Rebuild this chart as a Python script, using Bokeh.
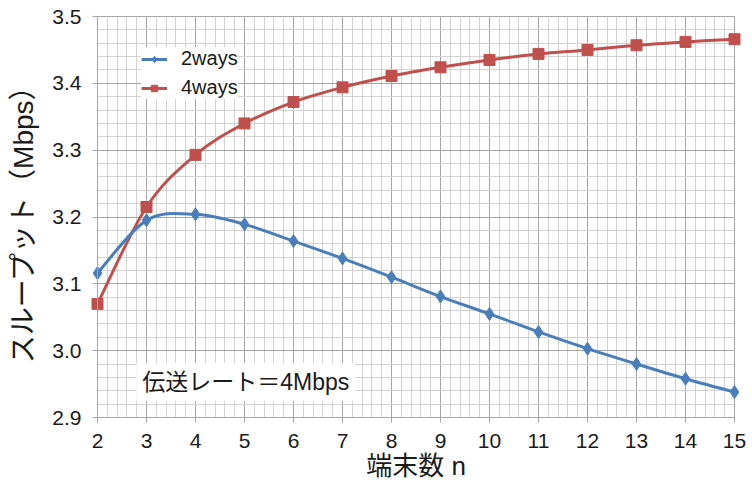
from bokeh.plotting import figure
from bokeh.models import (Range1d, SingleIntervalTicker, Legend, LegendItem, Label,
                          ColumnDataSource, NumeralTickFormatter)
from bokeh.embed import file_html
from bokeh.resources import INLINE

# ---- data ----
terminals = [2, 3, 4, 5, 6, 7, 8, 9, 10, 11, 12, 13, 14, 15]
ways2 = [3.116, 3.195, 3.204, 3.189, 3.164, 3.138, 3.110, 3.081, 3.055, 3.028, 3.003, 2.980, 2.958, 2.938]
ways4 = [3.070, 3.215, 3.293, 3.340, 3.372, 3.394, 3.411, 3.424, 3.435, 3.444, 3.450, 3.457, 3.462, 3.466]
series_names = ["2ways", "4ways"]
x_title = "端末数 n"
y_title = "スループット（Mbps）"
note_text = "伝送レート＝4Mbps"

BLUE = "#4a7ebb"
RED = "#c0504d"
FONT = "'Liberation Sans', Arial, 'Noto Sans CJK JP'"


def smooth_segments(xs, ys):
    """Bezier control points (Catmull-Rom style, as Excel smoothed lines)."""
    n = len(xs)
    d = dict(x0=[], y0=[], x1=[], y1=[], cx0=[], cy0=[], cx1=[], cy1=[])
    for i in range(n - 1):
        pm = i - 1 if i > 0 else i
        pp = i + 2 if i + 2 < n else i + 1
        d["x0"].append(xs[i]); d["y0"].append(ys[i])
        d["x1"].append(xs[i + 1]); d["y1"].append(ys[i + 1])
        d["cx0"].append(xs[i] + (xs[i + 1] - xs[pm]) / 6.0)
        d["cy0"].append(ys[i] + (ys[i + 1] - ys[pm]) / 6.0)
        d["cx1"].append(xs[i + 1] - (xs[pp] - xs[i]) / 6.0)
        d["cy1"].append(ys[i + 1] - (ys[pp] - ys[i]) / 6.0)
    return ColumnDataSource(d)


p = figure(width=752, height=487, output_backend="svg", toolbar_location=None,
           x_range=Range1d(2, 15), y_range=Range1d(2.9, 3.5),
           min_border_left=97, min_border_right=18, min_border_top=16, min_border_bottom=70)

p.background_fill_color = "white"
p.border_fill_color = "white"
p.outline_line_color = "#a6a6a6"

p.xaxis.ticker = SingleIntervalTicker(interval=1, num_minor_ticks=5)
p.yaxis.ticker = SingleIntervalTicker(interval=0.1, num_minor_ticks=5)
p.yaxis.formatter = NumeralTickFormatter(format="0.0")

for g in (p.xgrid, p.ygrid):
    g.grid_line_color = "#a6a6a6"
    g.grid_line_width = 1
    g.minor_grid_line_color = "#d2d2d2"
    g.minor_grid_line_width = 1

for ax in (p.xaxis, p.yaxis):
    ax.axis_line_color = "#a6a6a6"
    ax.major_tick_line_color = "#a6a6a6"
    ax.major_tick_out = 5
    ax.major_tick_in = 0
    ax.minor_tick_line_color = None
    ax.major_label_text_font = FONT
    ax.major_label_text_font_size = "21px"
    ax.major_label_text_color = "#1a1a1a"
    ax.axis_label_text_font = FONT
    ax.axis_label_text_font_style = "normal"
    ax.axis_label_text_color = "#1a1a1a"

p.xaxis.axis_label = x_title
p.xaxis.axis_label_text_font_size = "26px"
p.xaxis.major_label_standoff = 11
p.xaxis.axis_label_standoff = 0
p.yaxis.axis_label = y_title
p.yaxis.axis_label_text_font_size = "28px"
p.yaxis.major_label_standoff = 11
p.yaxis.axis_label_standoff = 10

src2 = smooth_segments(terminals, ways2)
src4 = smooth_segments(terminals, ways4)

c4 = p.bezier("x0", "y0", "x1", "y1", "cx0", "cy0", "cx1", "cy1", source=src4,
              line_color=RED, line_width=3)
c2 = p.bezier("x0", "y0", "x1", "y1", "cx0", "cy0", "cx1", "cy1", source=src2,
              line_color=BLUE, line_width=3)
m4 = p.scatter(terminals, ways4, marker="square", size=11, fill_color=RED, line_color=RED,
               level="guide")
m2 = p.scatter(terminals, ways2, marker="diamond", size=13, fill_color=BLUE, line_color=BLUE,
               level="guide")

legend = Legend(items=[LegendItem(label=series_names[0], renderers=[c2, m2]),
                       LegendItem(label=series_names[1], renderers=[c4, m4])],
                location=(44, 318), orientation="vertical",
                background_fill_color="white", background_fill_alpha=1.0,
                border_line_color=None, padding=6, spacing=6, margin=0,
                glyph_width=26, glyph_height=16, label_height=16, label_standoff=14,
                label_text_font=FONT, label_text_font_size="20px", label_text_color="#1a1a1a")
p.add_layout(legend, "center")

note = Label(x=2.79, y=2.9526, text=note_text, text_font=FONT, text_font_size="23px",
             text_color="#1a1a1a", text_baseline="middle", text_align="left",
             background_fill_color="white", background_fill_alpha=1.0, padding=6)
p.add_layout(note)

open("out.html", "w").write(file_html(p, INLINE))
